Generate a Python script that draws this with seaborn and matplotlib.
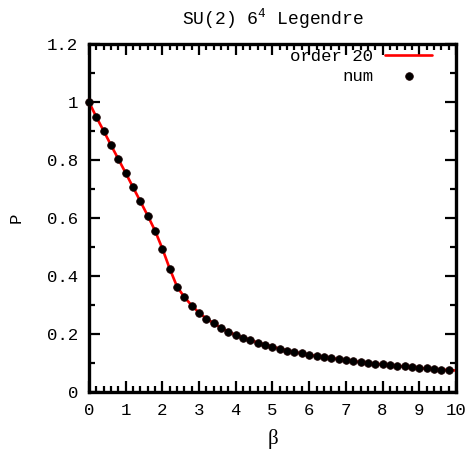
import numpy as np
import pandas as pd
import matplotlib
matplotlib.use("Agg")
import matplotlib.pyplot as plt
from matplotlib.ticker import MultipleLocator
import seaborn as sns

#_Data --------------------------------------
beta = [0.0, 0.2, 0.4, 0.6, 0.8, 1.0, 1.2, 1.4, 1.6, 1.8,
        2.0, 2.2, 2.4, 2.6, 2.8, 3.0, 3.2, 3.4, 3.6, 3.8,
        4.0, 4.2, 4.4, 4.6, 4.8, 5.0, 5.2, 5.4, 5.6, 5.8,
        6.0, 6.2, 6.4, 6.6, 6.8, 7.0, 7.2, 7.4, 7.6, 7.8,
        8.0, 8.2, 8.4, 8.6, 8.8, 9.0, 9.2, 9.4, 9.6, 9.8]
p_num = [1.000, 0.948, 0.900, 0.851, 0.803, 0.755, 0.706, 0.657, 0.608, 0.556,
         0.494, 0.425, 0.363, 0.327, 0.298, 0.273, 0.253, 0.237, 0.221, 0.208,
         0.196, 0.187, 0.179, 0.170, 0.163, 0.156, 0.149, 0.143, 0.137, 0.133,
         0.128, 0.124, 0.120, 0.117, 0.113, 0.110, 0.106, 0.103, 0.100, 0.098,
         0.095, 0.092, 0.090, 0.088, 0.085, 0.083, 0.081, 0.079, 0.077, 0.076]
# order-20 curve follows the points and runs on to beta = 10
beta_fit = beta + [10.0]
p_fit = p_num + [0.074]

y_ticks = [0, 0.2, 0.4, 0.6, 0.8, 1.0, 1.2]
y_tick_labels = ["0", "0.2", "0.4", "0.6", "0.8", "1", "1.2"]
x_ticks = [0, 1, 2, 3, 4, 5, 6, 7, 8, 9, 10]

#_Style -----------------
sns.set_style("ticks", {"axes.edgecolor": "black", "xtick.color": "black",
                        "ytick.color": "black", "text.color": "black",
                        "axes.labelcolor": "black"})
plt.rcParams['font.family'] = ['Liberation Mono', 'DejaVu Sans']
plt.rcParams['mathtext.fontset'] = 'custom'
plt.rcParams['mathtext.rm'] = 'Liberation Mono'
plt.rcParams['mathtext.it'] = 'Liberation Mono'

fig = plt.figure(figsize=(4.71, 4.49), dpi=100)
ax = fig.add_axes([0.189, 0.127, 0.779, 0.775])

fit_df = pd.DataFrame({'beta': beta_fit, 'P': p_fit})
num_df = pd.DataFrame({'beta': beta, 'P': p_num})

sns.lineplot(data=fit_df, x='beta', y='P', color='#ff0000', linewidth=1.9,
             ax=ax, label='order 20', zorder=2)
sns.scatterplot(data=num_df, x='beta', y='P', color='black', edgecolor='#1a0000',
                linewidth=0.6, s=30, ax=ax, label='num', zorder=3, clip_on=False)

#_Axes -----------------
ax.set_xlim(0, 10)
ax.set_ylim(0, 1.2)
ax.set_xticks(x_ticks)
ax.set_yticks(y_ticks)
ax.set_yticklabels(y_tick_labels)
ax.xaxis.set_minor_locator(MultipleLocator(0.2))
ax.yaxis.set_minor_locator(MultipleLocator(0.1))
ax.tick_params(which='both', direction='in', top=True, right=True,
               labelsize=12.5, width=1.6, pad=8)
ax.tick_params(which='major', length=8)
ax.tick_params(which='minor', length=4)
for s in ax.spines.values():
    s.set_linewidth(2.4)

ax.set_title('SU(2) 6$^4$ Legendre', fontsize=13, pad=14)
ax.set_xlabel('β', fontsize=15, family='Liberation Serif', labelpad=8)
ax.set_ylabel('P', fontsize=12.5, labelpad=17)

ax.legend(loc='upper right', bbox_to_anchor=(0.945, 0.995), frameon=False,
          markerfirst=False, fontsize=12.5, handlelength=2.7, borderaxespad=0,
          labelspacing=0.25, handletextpad=0.7, borderpad=0.2)

fig.savefig("out.png", dpi=100)
